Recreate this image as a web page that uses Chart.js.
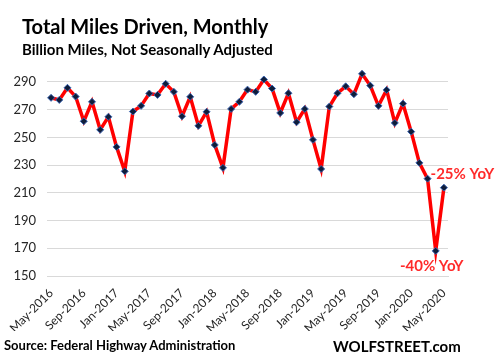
<!DOCTYPE html>
<html>
<head>
<meta charset="utf-8">
<script src="https://cdn.jsdelivr.net/npm/chart.js@4"></script>
<style>
  html, body { margin: 0; padding: 0; background: #fff; }
  #wrap { position: relative; width: 495px; height: 364px; font-family: Lato, "Open Sans", sans-serif; }
  #chart { position: absolute; left: 0; top: 0; }
  .txt { position: absolute; font-weight: bold; color: #000; white-space: nowrap; }
  #title { left: 22px; top: 14px; font-size: 20px; }
  #subtitle { left: 22px; top: 40px; font-size: 15px; }
  #source { left: 4px; top: 337px; font-size: 13px; }
  #brand { left: 333px; top: 337px; font-size: 15px; }
</style>
</head>
<body>
<div id="wrap">
  <canvas id="chart" width="495" height="364"></canvas>
  <div class="txt" id="title">Total Miles Driven, Monthly</div>
  <div class="txt" id="subtitle">Billion Miles, Not Seasonally Adjusted</div>
  <div class="txt" id="source">Source: Federal Highway Administration</div>
  <div class="txt" id="brand">WOLFSTREET.com</div>
</div>
<script>
const months = ['Jan', 'Feb', 'Mar', 'Apr', 'May', 'Jun', 'Jul', 'Aug', 'Sep', 'Oct', 'Nov', 'Dec'];

// May-2016 .. May-2020
const milesDriven = [
    278.5, 277, 285.7, 279.4, 261.6, 275.6, 255.4, 264.8, 243.1, 225.5, 268.6, 272.7,
    281.6, 280.6, 288.6, 282.8, 265.2, 279.2, 258.3, 268.4, 244.5, 228, 270.5, 275.6,
    284.4, 282.8, 291.7, 285.2, 267.6, 281.8, 260.9, 270.5, 248.2, 227.2, 272.2, 281.8,
    286.8, 281.1, 295.8, 287.3, 272.7, 284.2, 260.4, 274.3, 254.1, 231.6, 220.2, 168.1,
    213.7
];

const callouts = [
    { index: 46, text: '-25% YoY' },
    { index: 47, text: '-40% YoY' }
];

const labels = milesDriven.map((v, i) => {
    const m = (4 + i) % 12;
    const y = 2016 + Math.floor((4 + i) / 12);
    return months[m] + '-' + y;
});

const calloutPlugin = {
    id: 'callouts',
    afterDatasetsDraw(chart) {
        const ctx = chart.ctx;
        const meta = chart.getDatasetMeta(0);
        ctx.save();
        ctx.fillStyle = '#ff2a2a';
        ctx.font = 'bold 15px Lato, "Open Sans", sans-serif';
        const a = meta.data[callouts[0].index];
        ctx.textAlign = 'left';
        ctx.textBaseline = 'bottom';
        ctx.fillText(callouts[0].text, a.x + 3, a.y + 3);
        const b = meta.data[callouts[1].index];
        ctx.textAlign = 'center';
        ctx.textBaseline = 'top';
        ctx.fillText(callouts[1].text, b.x - 4, b.y + 8);
        ctx.restore();
    }
};

new Chart(document.getElementById('chart'), {
    type: 'line',
    data: {
        labels: labels,
        datasets: [{
            data: milesDriven,
            borderColor: '#ff0000',
            borderWidth: 3.5,
            tension: 0,
            pointStyle: 'rectRot',
            pointRadius: 3.5,
            pointBackgroundColor: '#0f1d3a',
            pointBorderColor: '#3a64b0',
            pointBorderWidth: 1
        }]
    },
    options: {
        responsive: false,
        animation: false,
        layout: { padding: { top: 68, right: 47, bottom: 33, left: 0 } },
        plugins: {
            legend: { display: false },
            tooltip: { enabled: false }
        },
        scales: {
            x: {
                offset: true,
                grid: { display: false },
                border: { color: '#d9d9d9' },
                afterFit(scale) { scale.height = 55; },
                ticks: {
                    autoSkip: false,
                    maxRotation: 45,
                    minRotation: 45,
                    padding: 2,
                    color: '#262626',
                    font: { size: 12, family: 'Lato, "Open Sans", sans-serif' },
                    callback: function (val, i) { return i % 4 === 0 ? this.getLabelForValue(val) : ''; }
                }
            },
            y: {
                min: 150,
                max: 300,
                afterFit(scale) { scale.width = 47; },
                afterBuildTicks(scale) {
                    const t = [];
                    for (let v = 150; v <= 290; v += 20) t.push({ value: v });
                    scale.ticks = t;
                },
                grid: { color: '#d9d9d9', drawTicks: false, lineWidth: 1 },
                border: { display: false },
                ticks: {
                    padding: 11,
                    color: '#262626',
                    font: { size: 13, family: 'Lato, "Open Sans", sans-serif' }
                }
            }
        }
    },
    plugins: [calloutPlugin]
});
</script>
</body>
</html>
